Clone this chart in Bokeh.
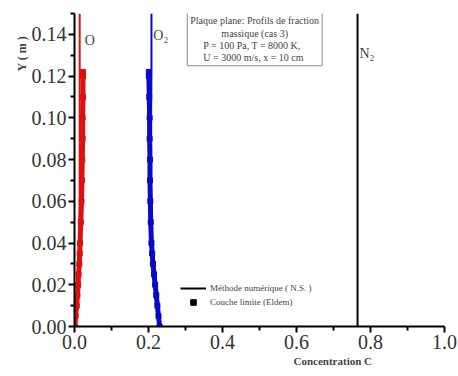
from bokeh.plotting import figure
from bokeh.models import Label, Legend, LegendItem, FixedTicker, NumeralTickFormatter, Range1d, Title
from bokeh.embed import file_html
from bokeh.resources import INLINE

FONT = "Liberation Serif"

# Boundary-layer (Eldem) data, dense markers
y_bl = [0.000, 0.005, 0.010, 0.015, 0.020, 0.025, 0.030, 0.035, 0.040, 0.050,
        0.060, 0.070, 0.080, 0.090, 0.100, 0.110, 0.120, 0.122]
o_bl = [0.001, 0.003, 0.006, 0.008, 0.010, 0.011, 0.013, 0.014, 0.015, 0.017,
        0.019, 0.020, 0.021, 0.022, 0.022, 0.023, 0.023, 0.023]
o2_bl = [0.230, 0.227, 0.224, 0.221, 0.218, 0.215, 0.212, 0.210, 0.208, 0.206,
         0.205, 0.204, 0.204, 0.203, 0.203, 0.202, 0.201, 0.201]

# Numerical method (N.S.) profiles
y_ns = [0.000, 0.010, 0.020, 0.040, 0.060, 0.100, 0.122, 0.150]
o_ns = [0.000, 0.006, 0.010, 0.013, 0.014, 0.014, 0.014, 0.014]
o2_ns = [0.230, 0.224, 0.218, 0.209, 0.207, 0.207, 0.208, 0.208]
n2_ns = [0.765, 0.765, 0.765, 0.765, 0.765, 0.765, 0.765, 0.765]

x_ticks = [0.0, 0.2, 0.4, 0.6, 0.8, 1.0]
x_minor = [0.1, 0.3, 0.5, 0.7, 0.9]
y_ticks = [0.00, 0.02, 0.04, 0.06, 0.08, 0.10, 0.12, 0.14]
y_minor = [0.01, 0.03, 0.05, 0.07, 0.09, 0.11, 0.13, 0.15]

RED = "#e01010"
BLUE = "#0a0ac8"

p = figure(width=458, height=376, output_backend="svg", toolbar_location=None,
           x_range=Range1d(0, 1.0), y_range=Range1d(0, 0.15),
           min_border_left=74, min_border_right=14, min_border_top=13, min_border_bottom=50)
p.outline_line_color = None
p.xgrid.visible = False
p.ygrid.visible = False
p.background_fill_color = "white"

# markers band
p.line(o_bl, y_bl, color=RED, line_width=5)
p.scatter(o_bl, y_bl, marker="square", size=5, color=RED)
p.line(o2_bl, y_bl, color=BLUE, line_width=5)
p.scatter(o2_bl, y_bl, marker="square", size=5, color=BLUE)
# NS lines
p.line(o_ns, y_ns, color=RED, line_width=2)
p.line(o2_ns, y_ns, color=BLUE, line_width=2)
p.line(n2_ns, y_ns, color="black", line_width=2)

# axes
for ax, ticks, minor, fmt in ((p.xaxis[0], x_ticks, x_minor, "0.0"), (p.yaxis[0], y_ticks, y_minor, "0.00")):
    ax.ticker = FixedTicker(ticks=ticks, minor_ticks=minor)
    ax.formatter = NumeralTickFormatter(format=fmt)
    ax.axis_line_width = 2
    ax.axis_line_color = "black"
    ax.major_tick_line_width = 2
    ax.minor_tick_line_width = 2
    ax.major_tick_in = 0
    ax.major_tick_out = 6
    ax.minor_tick_in = 0
    ax.minor_tick_out = 4
    ax.major_label_text_font = FONT
    ax.major_label_text_font_size = "20px"
    ax.major_label_text_color = "#333333"
    ax.major_label_standoff = 2

# axis titles
p.add_layout(Title(text="Concentration C", align="left", offset=219, text_font=FONT,
                   text_font_size="11px", text_font_style="bold", standoff=3), "below")
p.add_layout(Title(text="Y ( m )", align="left", offset=255, text_font=FONT,
                   text_font_size="12px", text_font_style="bold", standoff=0), "left")

# species labels
p.add_layout(Label(x=0.028, y=0.137, text="O", text_font=FONT, text_font_size="14px",
                   text_baseline="middle"))
p.add_layout(Label(x=0.213, y=0.1395, text="O₂", text_font=FONT, text_font_size="14px",
                   text_baseline="middle"))
p.add_layout(Label(x=0.770, y=0.131, text="N₂", text_font=FONT, text_font_size="14px",
                   text_baseline="middle"))

# info box
p.add_layout(Label(x=0.487, y=0.1505, text="Plaque plane: Profils de fraction\nmassique (cas 3)\nP = 100  Pa,  T = 8000 K,\nU = 3000 m/s,  x = 10 cm",
                   text_font=FONT, text_font_size="10px", text_align="center", text_baseline="top",
                   border_line_color="#888888", border_line_width=1, background_fill_color="white",
                   padding=3, text_line_height=1.1))

# legend (dummy renderers outside visible range)
r_line = p.line([-1], [-1], color="black", line_width=2)
r_sq = p.scatter([-1], [-1], marker="square", size=2.5, color="black")
legend = Legend(items=[LegendItem(label="Méthode numérique ( N.S. )", renderers=[r_line]),
                       LegendItem(label="Couche limite (Eldem)", renderers=[r_sq])],
                location=(106, 17), border_line_color=None, background_fill_alpha=0,
                label_text_font=FONT, label_text_font_size="9px", padding=0, margin=0,
                spacing=0, label_height=14, glyph_height=14, glyph_width=26, label_standoff=4)
p.add_layout(legend)

open("out.html", "w").write(file_html(p, INLINE))
